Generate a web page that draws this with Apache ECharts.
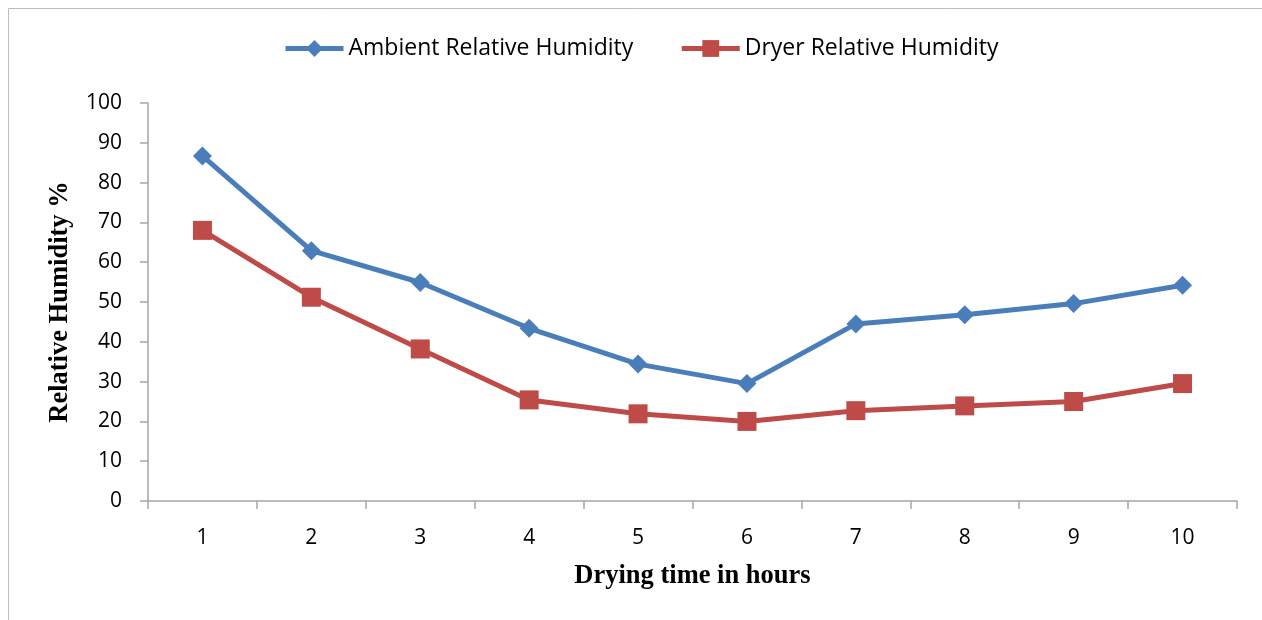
<!DOCTYPE html>
<html>
<head>
<meta charset="utf-8">
<script src="https://cdn.jsdelivr.net/npm/echarts@6/dist/echarts.min.js"></script>
<style>
html,body{margin:0;padding:0;background:#fff;}
#c{width:1262px;height:620px;}
</style>
</head>
<body>
<div id="c"></div>
<script>
var categories = ['1','2','3','4','5','6','7','8','9','10'];
var ambientRH = [86.7, 62.9, 54.9, 43.4, 34.4, 29.5, 44.5, 46.8, 49.6, 54.2];
var dryerRH = [68.0, 51.2, 38.2, 25.4, 21.9, 20.0, 22.7, 23.9, 25.0, 29.5];
var seriesNames = ['Ambient Relative Humidity', 'Dryer Relative Humidity'];

var chart = echarts.init(document.getElementById('c'));
var tickFont = {fontFamily: 'Open Sans', fontSize: 21, color: '#000'};
chart.setOption({
  animation: false,
  graphic: [{
    type: 'rect', shape: {x: 8.5, y: 8.5, width: 1300, height: 700},
    style: {fill: 'none', stroke: '#bdbdbd', lineWidth: 1}, silent: true
  }],
  legend: {
    top: 32, left: 278,
    itemWidth: 58, itemHeight: 21, itemGap: 46,
    lineStyle: {width: 5},
    textStyle: {fontFamily: 'Open Sans', fontSize: 23, color: '#000'},
    data: seriesNames
  },
  grid: {left: 148, right: 25, top: 103, bottom: 119},
  xAxis: {
    type: 'category', data: categories, boundaryGap: true,
    name: 'Drying time in hours', nameLocation: 'middle', nameGap: 62,
    nameTextStyle: {fontFamily: 'Liberation Serif', fontWeight: 'bold', fontSize: 26.5, color: '#000'},
    axisLine: {lineStyle: {color: '#a6a6a6', width: 1.5}},
    axisTick: {show: true, length: 8, alignWithLabel: false, lineStyle: {color: '#a6a6a6', width: 1.5}},
    axisLabel: Object.assign({margin: 27}, tickFont),
    splitLine: {show: false}
  },
  yAxis: {
    type: 'value', min: 0, max: 100, interval: 10,
    name: 'Relative Humidity %', nameLocation: 'middle', nameGap: 74, nameRotate: 90,
    nameTextStyle: {fontFamily: 'Liberation Serif', fontWeight: 'bold', fontSize: 26.5, color: '#000'},
    axisLine: {show: true, lineStyle: {color: '#a6a6a6', width: 1.5}},
    axisTick: {show: true, length: 8, lineStyle: {color: '#a6a6a6', width: 1.5}},
    axisLabel: Object.assign({margin: 26}, tickFont),
    splitLine: {show: false}
  },
  series: [{
    name: seriesNames[0], type: 'line', data: ambientRH,
    symbol: 'diamond', symbolSize: 19,
    lineStyle: {color: '#4a7ebb', width: 5},
    itemStyle: {color: '#4a7ebb'}
  }, {
    name: seriesNames[1], type: 'line', data: dryerRH,
    symbol: 'rect', symbolSize: 19,
    lineStyle: {color: '#be4b48', width: 5},
    itemStyle: {color: '#be4b48'}
  }]
});
</script>
</body>
</html>
